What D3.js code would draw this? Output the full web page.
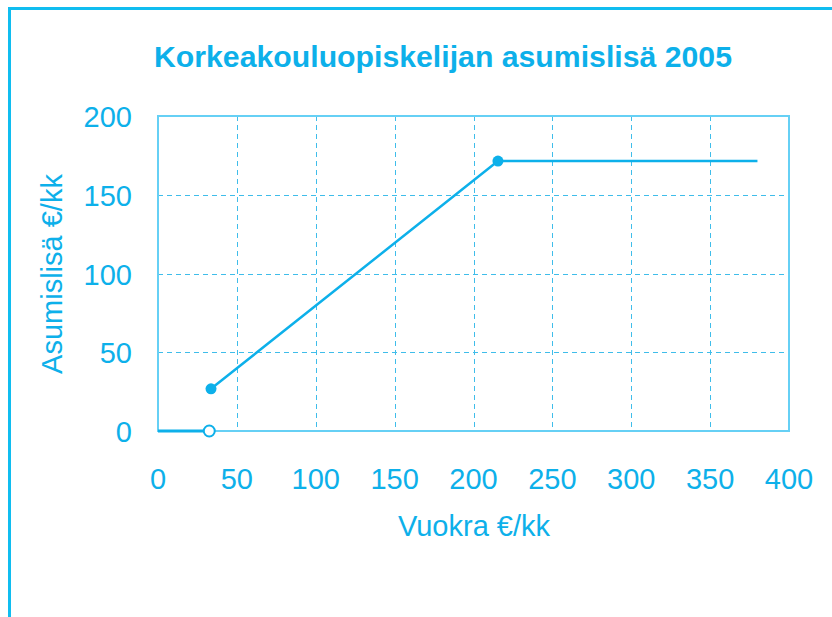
<!DOCTYPE html>
<meta charset="utf-8">
<script src="https://d3js.org/d3.v7.min.js"></script>
<style>
  body { margin: 0; background: #fff; }
  text { font-family: "Liberation Sans", Arial, sans-serif; fill: #0db0ea; }
</style>
<svg id="chart" width="832" height="617"></svg>
<script>
  // data
  var title = "Korkeakouluopiskelijan asumislisä 2005";
  var xLabel = "Vuokra €/kk", yLabel = "Asumislisä €/kk";
  var xTicks = [0, 50, 100, 150, 200, 250, 300, 350, 400];
  var yTicks = [0, 50, 100, 150, 200];
  var rentLow = [0, 32.5], aidLow = [0, 0];             // below the deductible
  var rent = [33.6, 215.5, 380], aid = [26.8, 171.4, 171.4];
  var openPoints = [[32.5, 0]];
  var filledPoints = [[33.6, 26.8], [215.5, 171.4]];

  var svg = d3.select("svg");
  var blue = "#0db0ea";

  // frame
  svg.append("line").attr("x1", 8).attr("x2", 832).attr("y1", 8.5).attr("y2", 8.5)
    .attr("stroke", "#10bdf0").attr("stroke-width", 3);
  svg.append("line").attr("x1", 9.5).attr("x2", 9.5).attr("y1", 7).attr("y2", 617)
    .attr("stroke", "#10bdf0").attr("stroke-width", 3);

  var x = d3.scaleLinear().domain([0, 400]).range([158, 789]);
  var y = d3.scaleLinear().domain([0, 200]).range([431, 116]);
  var crisp = v => Math.round(v) + 0.5;

  // grid
  var g = svg.append("g");
  g.selectAll(".vg").data(xTicks.slice(1, -1)).enter().append("line")
    .attr("x1", d => crisp(x(d))).attr("x2", d => crisp(x(d))).attr("y1", y(200)).attr("y2", y(0))
    .attr("stroke", "#3fbdea").attr("stroke-width", 1).attr("stroke-dasharray", "5,4");
  g.selectAll(".hg").data(yTicks.slice(1, -1)).enter().append("line")
    .attr("x1", x(0)).attr("x2", x(400)).attr("y1", d => crisp(y(d))).attr("y2", d => crisp(y(d)))
    .attr("stroke", "#3fbdea").attr("stroke-width", 1).attr("stroke-dasharray", "5,4");
  g.append("rect").attr("x", x(0)).attr("y", y(200))
    .attr("width", x(400) - x(0)).attr("height", y(0) - y(200))
    .attr("fill", "none").attr("stroke", "#66d0f5").attr("stroke-width", 2);

  // tick labels
  svg.selectAll(".xt").data(xTicks).enter().append("text")
    .attr("x", d => x(d)).attr("y", 489).attr("text-anchor", "middle")
    .attr("font-size", 29).text(d => d);
  svg.selectAll(".yt").data(yTicks).enter().append("text")
    .attr("x", 132).attr("y", d => y(d) + 11).attr("text-anchor", "end")
    .attr("font-size", 29).text(d => d);

  // titles
  svg.append("text").attr("x", 443).attr("y", 67).attr("text-anchor", "middle")
    .attr("font-size", 29).attr("font-weight", "bold")
    .attr("textLength", 578).attr("lengthAdjust", "spacingAndGlyphs").text(title);
  svg.append("text").attr("x", 474).attr("y", 536).attr("text-anchor", "middle")
    .attr("font-size", 29).text(xLabel);
  svg.append("text").attr("transform", "translate(62," + 274 + ") rotate(-90)")
    .attr("text-anchor", "middle").attr("font-size", 29).text(yLabel);

  // lines
  var line = d3.line().x(d => x(d[0])).y(d => y(d[1]));
  svg.append("path").datum(d3.zip(rentLow, aidLow)).attr("d", line)
    .attr("fill", "none").attr("stroke", blue).attr("stroke-width", 3);
  svg.append("path").datum(d3.zip(rent, aid)).attr("d", line)
    .attr("fill", "none").attr("stroke", blue).attr("stroke-width", 2.5);

  svg.selectAll(".fp").data(filledPoints).enter().append("circle")
    .attr("cx", d => x(d[0])).attr("cy", d => y(d[1])).attr("r", 5.5)
    .attr("fill", blue);
  svg.selectAll(".op").data(openPoints).enter().append("circle")
    .attr("cx", d => x(d[0])).attr("cy", d => y(d[1])).attr("r", 5.5)
    .attr("fill", "#fff").attr("stroke", blue).attr("stroke-width", 2);
</script>
